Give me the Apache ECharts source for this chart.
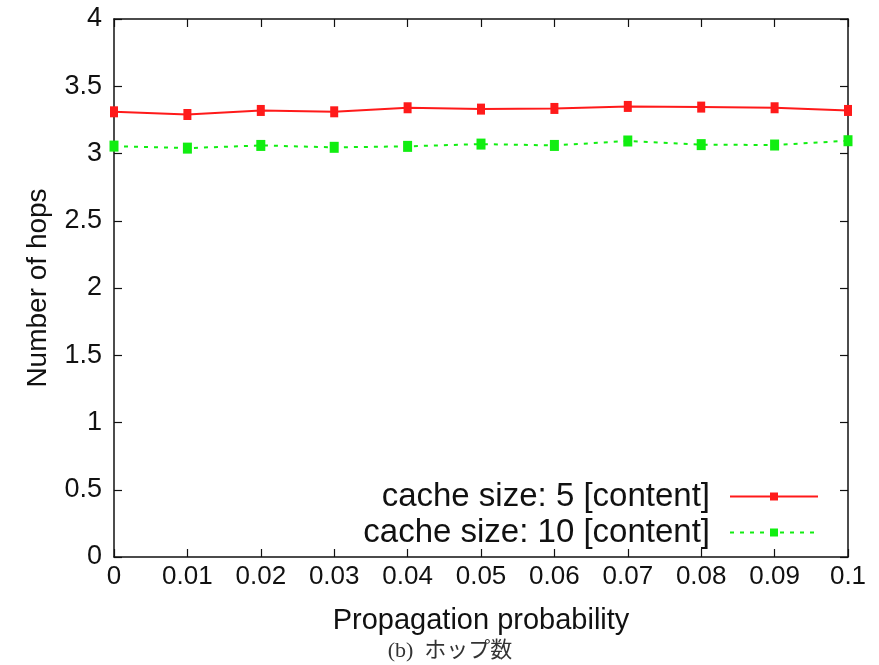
<!DOCTYPE html>
<html><head><meta charset="utf-8">
<script src="https://cdn.jsdelivr.net/npm/echarts@6/dist/echarts.min.js"></script>
<style>html,body{margin:0;padding:0;background:#fff}#c{width:879px;height:665px}</style>
</head><body><div id="c"></div>
<script>
const xValues = [0, 0.01, 0.02, 0.03, 0.04, 0.05, 0.06, 0.07, 0.08, 0.09, 0.1];
const cache5 = [3.31, 3.29, 3.32, 3.31, 3.34, 3.33, 3.335, 3.35, 3.345, 3.34, 3.32];
const cache10 = [3.055, 3.04, 3.06, 3.046, 3.053, 3.07, 3.06, 3.093, 3.066, 3.063, 3.095];
const seriesNames = ['cache size: 5 [content]', 'cache size: 10 [content]'];
const xTitle = 'Propagation probability';
const yTitle = 'Number of hops';
const caption = '(b)  ホップ数';

const font = 'Liberation Sans, Arial, sans-serif';
const chart = echarts.init(document.getElementById('c'));
const fmtX = v => String(parseFloat(v.toFixed(2)));
const axisCommon = {
  axisLine: {show: true, onZero: false, lineStyle: {color: '#111', width: 1.5}},
  axisTick: {show: true, inside: true, length: 8, lineStyle: {color: '#111', width: 1.2}},
  splitLine: {show: false}
};
chart.setOption({
  animation: false,
  grid: {left: 114, right: 31, top: 19, bottom: 108},
  xAxis: [
    Object.assign({type: 'value', min: 0, max: 0.1, interval: 0.01, position: 'bottom',
      name: xTitle, nameLocation: 'middle', nameGap: 49,
      nameTextStyle: {fontFamily: font, fontSize: 29, color: '#111'},
      axisLabel: {formatter: fmtX, fontFamily: font, fontSize: 26, color: '#111', margin: 7}}, axisCommon),
    Object.assign({type: 'value', min: 0, max: 0.1, interval: 0.01, position: 'top',
      axisLabel: {show: false}}, axisCommon)
  ],
  yAxis: [
    Object.assign({type: 'value', min: 0, max: 4, interval: 0.5, position: 'left',
      name: yTitle, nameLocation: 'middle', nameGap: 62, nameRotate: 90,
      nameTextStyle: {fontFamily: font, fontSize: 28, color: '#111'},
      axisLabel: {fontFamily: font, fontSize: 27, color: '#111', margin: 12}}, axisCommon),
    Object.assign({type: 'value', min: 0, max: 4, interval: 0.5, position: 'right',
      axisLabel: {show: false}}, axisCommon)
  ],
  legend: {
    orient: 'vertical', align: 'right', right: 55, bottom: 111,
    itemWidth: 88, itemHeight: 10, itemGap: 3,
    textStyle: {fontFamily: font, fontSize: 33, color: '#111', padding: [0, 15, 0, 0]},
    data: seriesNames
  },
  series: [
    {name: seriesNames[0], type: 'line', data: xValues.map((x, i) => [x, cache5[i]]),
      symbol: 'rect', symbolSize: [8, 11], itemStyle: {color: '#ff1a1a'},
      lineStyle: {color: '#ff1a1a', width: 2}},
    {name: seriesNames[1], type: 'line', data: xValues.map((x, i) => [x, cache10[i]]),
      symbol: 'rect', symbolSize: [9, 11], itemStyle: {color: '#11ee11'},
      lineStyle: {color: '#11ee11', width: 2, type: [4, 6]}}
  ],
  graphic: [{type: 'text', x: 450, y: 651,
    style: {text: caption, align: 'center', verticalAlign: 'middle',
      font: '22px "Liberation Serif", "Noto Sans CJK JP", serif', fill: '#333'}}]
});
</script></body></html>
